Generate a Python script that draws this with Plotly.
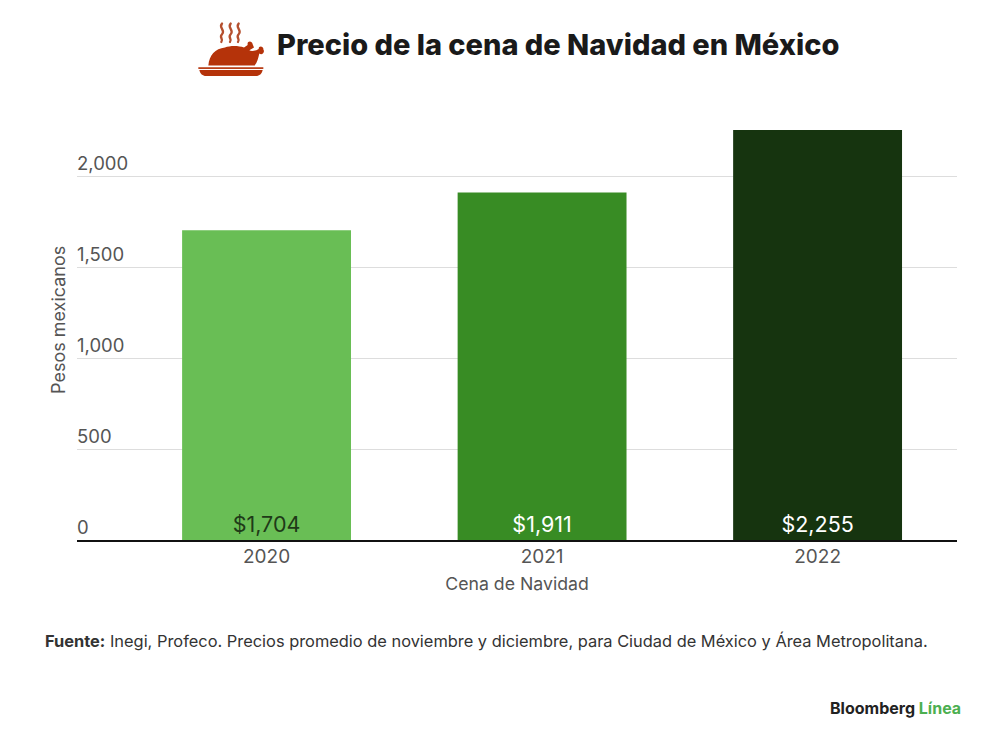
import base64

import plotly.graph_objects as go

years = ["2020", "2021", "2022"]
prices = [1704, 1911, 2255]
price_labels = ["$1,704", "$1,911", "$2,255"]
bar_colors = ["#69BE55", "#388C24", "#16340F"]
label_colors = ["#1f3a18", "#ffffff", "#ffffff"]
tick_values = [0, 500, 1000, 1500, 2000]
tick_labels = ["0", "500", "1,000", "1,500", "2,000"]

FONT = "Inter"
GREY = "#555555"

# turkey on a plate, drawn in the 3x coordinates of a 120x80 box
ICON_SVG = """<svg xmlns="http://www.w3.org/2000/svg" viewBox="0 0 360 240">
<g fill="none" stroke="#B5502F" stroke-width="7" stroke-linecap="round">
<path d="M126 40 C114 52 138 60 126 72 C116 82 132 86 124 95"/>
<path d="M152 40 C140 52 164 60 152 72 C142 82 158 86 150 95"/>
<path d="M176 40 C164 52 188 60 176 72 C166 82 182 86 174 95"/>
</g>
<g fill="#B5330A">
<path d="M85 166 C88 135 105 115 135 112 C150 106 175 106 192 112 L203 104 C200 92 216 90 218 102 L222 112 L208 120 C214 124 226 122 236 116 C236 104 252 108 250 118 C256 126 246 136 238 130 C234 146 232 156 224 166 Z"/>
<rect x="55" y="171" width="195" height="5"/>
<path d="M58 179 L248 179 C246 190 238 197 228 197 L78 197 C68 197 60 190 58 179 Z"/>
</g>
</svg>"""
icon_source = "data:image/svg+xml;base64," + base64.b64encode(ICON_SVG.encode()).decode()

fig = go.Figure()
fig.add_trace(
    go.Bar(
        x=years,
        y=prices,
        marker_color=bar_colors,
        marker_line_width=0,
        width=0.613,
        text=price_labels,
        textposition="inside",
        insidetextanchor="start",
        textangle=0,
        textfont=dict(size=21.5, color=label_colors, family=FONT),
        cliponaxis=False,
    )
)

fig.update_layout(
    width=1000,
    height=750,
    margin=dict(l=0, r=0, t=0, b=0),
    paper_bgcolor="white",
    plot_bgcolor="white",
    font=dict(family=FONT, color=GREY),
    showlegend=False,
    xaxis=dict(
        domain=[0.069, 0.949],
        range=[-0.688, 2.506],
        showline=True,
        linecolor="#111111",
        linewidth=2,
        ticks="",
        ticklabelstandoff=-2,
        tickfont=dict(size=19, color=GREY),
        title=dict(text="Cena de Navidad", font=dict(size=17.7, color=GREY), standoff=11),
    ),
    yaxis=dict(
        domain=[0.2907, 0.8373],
        range=[0, 2255],
        tickvals=tick_values,
        ticktext=tick_labels,
        ticks="",
        ticklabelposition="inside top",
        ticklabelstandoff=-3,
        gridcolor="#dddddd",
        gridwidth=1,
        zeroline=False,
        tickfont=dict(size=18.5, color=GREY),
    ),
    images=[
        dict(
            source=icon_source,
            xref="paper", yref="paper",
            x=0.172, y=0.997,
            sizex=0.12, sizey=0.1067,
            xanchor="left", yanchor="top",
            sizing="stretch",
            layer="above",
        )
    ],
)

fig.add_annotation(
    text="Precio de la cena de Navidad en México",
    xref="paper", yref="paper", x=0.267, y=0.951, showarrow=False,
    xanchor="left", yanchor="middle",
    font=dict(size=29, color="#1a1a1a", family=FONT, weight=800),
)
fig.add_annotation(
    text="Pesos mexicanos",
    xref="paper", yref="paper", x=0.05, y=0.584, showarrow=False,
    textangle=-90, xanchor="center", yanchor="middle",
    font=dict(size=18, color=GREY, family=FONT),
)
fig.add_annotation(
    text="<b>Fuente:</b> Inegi, Profeco. Precios promedio de noviembre y diciembre, para Ciudad de México y Área Metropolitana.",
    xref="paper", yref="paper", x=0.035, y=0.156, showarrow=False,
    xanchor="left", yanchor="middle",
    font=dict(size=16.4, color="#333333", family=FONT),
)
fig.add_annotation(
    text='<b>Bloomberg <span style="color:#4CAF50">Línea</span></b>',
    xref="paper", yref="paper", x=0.955, y=0.067, showarrow=False,
    xanchor="right", yanchor="middle",
    font=dict(size=16, color="#222222", family=FONT),
)

fig.write_html("out.html")
